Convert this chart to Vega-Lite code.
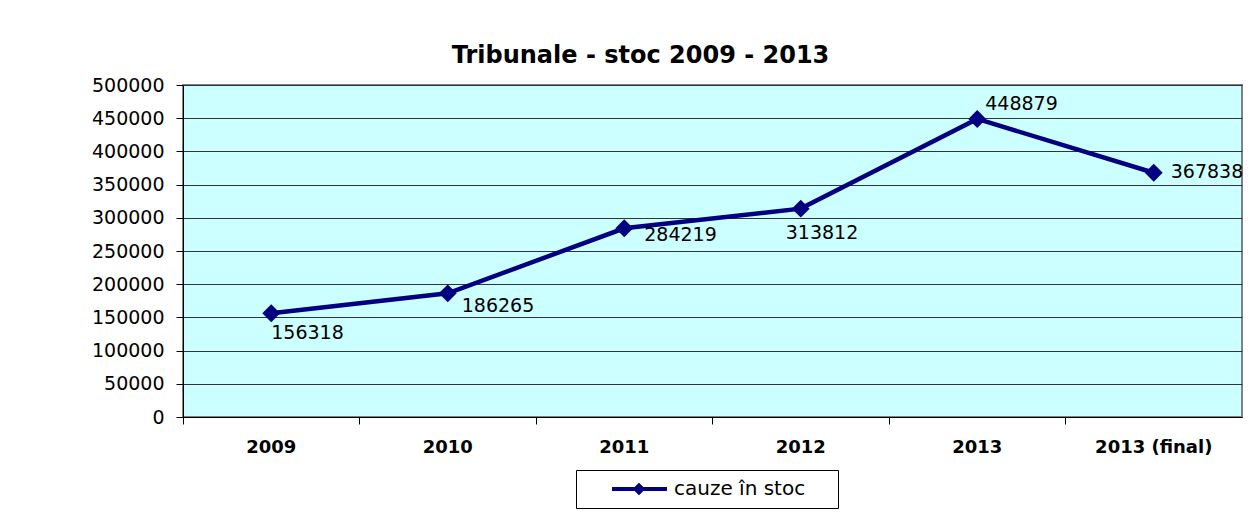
{
  "$schema": "https://vega.github.io/schema/vega-lite/v6.json",
  "autosize": {"type": "none"},
  "width": 1059,
  "height": 332,
  "padding": {"left": 183, "top": 85, "right": 15, "bottom": 106},
  "background": "white",
  "title": {
    "text": "Tribunale - stoc 2009 - 2013",
    "font": "DejaVu Sans",
    "fontSize": 24,
    "fontWeight": "bold",
    "color": "black",
    "anchor": "middle",
    "dx": -72,
    "offset": 8
  },
  "data": {
    "values": [
      {"an": "2009", "stoc": 156318, "serie": "cauze în stoc"},
      {"an": "2010", "stoc": 186265, "serie": "cauze în stoc"},
      {"an": "2011", "stoc": 284219, "serie": "cauze în stoc"},
      {"an": "2012", "stoc": 313812, "serie": "cauze în stoc"},
      {"an": "2013", "stoc": 448879, "serie": "cauze în stoc"},
      {"an": "2013 (final)", "stoc": 367838, "serie": "cauze în stoc"}
    ]
  },
  "encoding": {
    "x": {
      "field": "an",
      "type": "nominal",
      "sort": null,
      "scale": {"type": "band", "paddingInner": 0, "paddingOuter": 0},
      "axis": {
        "title": null,
        "labelAngle": 0,
        "labelFont": "DejaVu Sans",
        "labelFontWeight": "bold",
        "labelFontSize": 18,
        "labelColor": "black",
        "labelBaseline": "middle",
        "labelPadding": 23,
        "tickColor": "black",
        "tickSize": 7,
        "bandPosition": 0,
        "domainColor": "black",
        "grid": false
      }
    },
    "y": {
      "field": "stoc",
      "type": "quantitative",
      "scale": {"domain": [0, 500000], "nice": false},
      "axis": {
        "title": null,
        "values": [0, 50000, 100000, 150000, 200000, 250000, 300000, 350000, 400000, 450000, 500000],
        "format": "d",
        "labelFont": "DejaVu Sans",
        "labelFontSize": 19,
        "labelColor": "black",
        "labelPadding": 12,
        "tickColor": "black",
        "tickSize": 7,
        "domainColor": "black",
        "gridColor": "#333333",
        "gridWidth": 1
      }
    }
  },
  "layer": [
    {
      "mark": {"type": "line", "strokeWidth": 4.5},
      "encoding": {
        "color": {
          "field": "serie",
          "type": "nominal",
          "scale": {"range": ["#000080"]},
          "legend": {
            "title": null,
            "orient": "none",
            "legendX": 393,
            "legendY": 385,
            "direction": "horizontal",
            "strokeColor": "black",
            "fillColor": "white",
            "padding": 7,
            "labelFont": "DejaVu Sans",
            "labelFontSize": 20,
            "labelColor": "black",
            "labelLimit": 300,
            "labelExpr": "datum.label + '\u00a0\u00a0\u00a0\u00a0\u200b'",
            "symbolType": "M1.7,0H7.2M4.05,0L4.4,-0.35L4.75,0L4.4,0.35Z",
            "symbolSize": 400,
            "symbolStrokeWidth": 4,
            "symbolFillColor": "#000080",
            "symbolStrokeColor": "#000080",
            "labelOffset": 67
          }
        }
      }
    },
    {
      "mark": {"type": "point", "shape": "diamond", "filled": true, "size": 320, "color": "#000080", "opacity": 1}
    },
    {
      "transform": [{"filter": "datum.an == '2009'"}],
      "mark": {"type": "text", "align": "left", "baseline": "middle", "dx": 0, "dy": 20, "font": "DejaVu Sans", "fontSize": 19, "color": "black"},
      "encoding": {"text": {"field": "stoc", "type": "quantitative", "format": "d"}}
    },
    {
      "transform": [{"filter": "datum.an == '2010'"}],
      "mark": {"type": "text", "align": "left", "baseline": "middle", "dx": 14, "dy": 13, "font": "DejaVu Sans", "fontSize": 19, "color": "black"},
      "encoding": {"text": {"field": "stoc", "type": "quantitative", "format": "d"}}
    },
    {
      "transform": [{"filter": "datum.an == '2011'"}],
      "mark": {"type": "text", "align": "left", "baseline": "middle", "dx": 20, "dy": 7, "font": "DejaVu Sans", "fontSize": 19, "color": "black"},
      "encoding": {"text": {"field": "stoc", "type": "quantitative", "format": "d"}}
    },
    {
      "transform": [{"filter": "datum.an == '2012'"}],
      "mark": {"type": "text", "align": "left", "baseline": "middle", "dx": -15, "dy": 24, "font": "DejaVu Sans", "fontSize": 19, "color": "black"},
      "encoding": {"text": {"field": "stoc", "type": "quantitative", "format": "d"}}
    },
    {
      "transform": [{"filter": "datum.an == '2013'"}],
      "mark": {"type": "text", "align": "left", "baseline": "middle", "dx": 8, "dy": -15, "font": "DejaVu Sans", "fontSize": 19, "color": "black"},
      "encoding": {"text": {"field": "stoc", "type": "quantitative", "format": "d"}}
    },
    {
      "transform": [{"filter": "datum.an == '2013 (final)'"}],
      "mark": {"type": "text", "align": "left", "baseline": "middle", "dx": 17, "dy": -1, "font": "DejaVu Sans", "fontSize": 19, "color": "black"},
      "encoding": {"text": {"field": "stoc", "type": "quantitative", "format": "d"}}
    }
  ],
  "config": {
    "view": {"fill": "#ccffff", "stroke": "#808080", "strokeWidth": 2}
  }
}
